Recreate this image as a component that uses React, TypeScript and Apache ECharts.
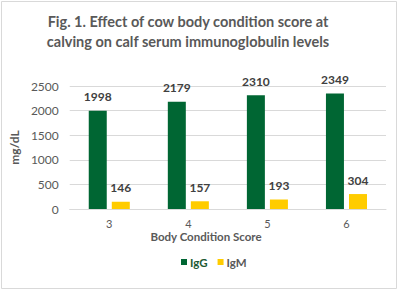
import React, { useEffect, useRef } from "react";
import * as echarts from "echarts";

const categories = ["3", "4", "5", "6"];
const igG = [1998, 2179, 2310, 2349];
const igM = [146, 157, 193, 304];
const seriesNames = ["IgG", "IgM"];
const titleLines = [
  "Fig. 1. Effect of cow body condition score at",
  "calving on calf serum immunoglobulin levels",
];

export default function App() {
  const ref = useRef<HTMLDivElement>(null);
  useEffect(() => {
    const chart = echarts.init(ref.current!, null, { renderer: "svg" });
    const font = "Lato, 'Open Sans', sans-serif";
    const label = {
      show: true,
      position: "top",
      distance: 8,
      color: "#404040",
      fontWeight: "bold",
      fontSize: 12,
      fontFamily: font,
    };
    chart.setOption({
      animation: false,
      backgroundColor: "#ffffff",
      textStyle: { fontFamily: font },
      graphic: [
        {
          type: "rect",
          shape: { x: 1.5, y: 1.5, width: 395, height: 287 },
          style: { fill: "none", stroke: "#d9d9d9", lineWidth: 1 },
        },
        {
          type: "text",
          x: 188,
          y: 21,
          style: {
            text: titleLines[0],
            fill: "#595959",
            font: `bold 14.5px ${font}`,
            textAlign: "center",
            textVerticalAlign: "middle",
          },
        },
        {
          type: "text",
          x: 188,
          y: 41,
          style: {
            text: titleLines[1],
            fill: "#595959",
            font: `bold 14.5px ${font}`,
            textAlign: "center",
            textVerticalAlign: "middle",
          },
        },
        {
          type: "text",
          x: 206,
          y: 236,
          style: {
            text: "Body Condition Score",
            fill: "#595959",
            font: `bold 11.5px ${font}`,
            textAlign: "center",
            textVerticalAlign: "middle",
          },
        },
      ],
      legend: {
        top: 251,
        left: 176,
        icon: "rect",
        itemWidth: 6,
        itemHeight: 6,
        itemGap: 10,
        itemStyle: {},
        textStyle: { fontSize: 11.5, fontWeight: "bold", color: "#595959", padding: [0, 0, 0, -2] },
        data: [
          { name: seriesNames[0], textStyle: { color: "#1e5a34" } },
          { name: seriesNames[1] },
        ],
      },
      grid: { left: 66, right: 14, top: 86, bottom: 82 },
      xAxis: {
        type: "category",
        data: categories,
        axisLine: { lineStyle: { color: "#d9d9d9" } },
        axisTick: { show: false },
        axisLabel: { color: "#595959", fontSize: 11, margin: 9 },
      },
      yAxis: {
        type: "value",
        min: 0,
        max: 2500,
        interval: 500,
        name: "mg/dL",
        nameLocation: "middle",
        nameGap: 42,
        nameTextStyle: { color: "#595959", fontSize: 12, fontWeight: "bold" },
        axisLine: { show: false },
        axisTick: { show: false },
        splitLine: { lineStyle: { color: "#d9d9d9" } },
        axisLabel: {
          color: "#595959",
          fontSize: 12,
          margin: 11,
          formatter: (v: number) => String(v),
        },
      },
      series: [
        {
          name: seriesNames[0],
          type: "bar",
          data: igG,
          barWidth: 18,
          barGap: "28%",
          itemStyle: { color: "#006633" },
          label,
        },
        {
          name: seriesNames[1],
          type: "bar",
          data: igM,
          barWidth: 18,
          itemStyle: { color: "#ffcc00" },
          label,
        },
      ],
    });
    return () => chart.dispose();
  }, []);
  return (
    <div
      ref={ref}
      style={{ position: "fixed", left: 0, top: 0, width: 400, height: 291 }}
    />
  );
}
